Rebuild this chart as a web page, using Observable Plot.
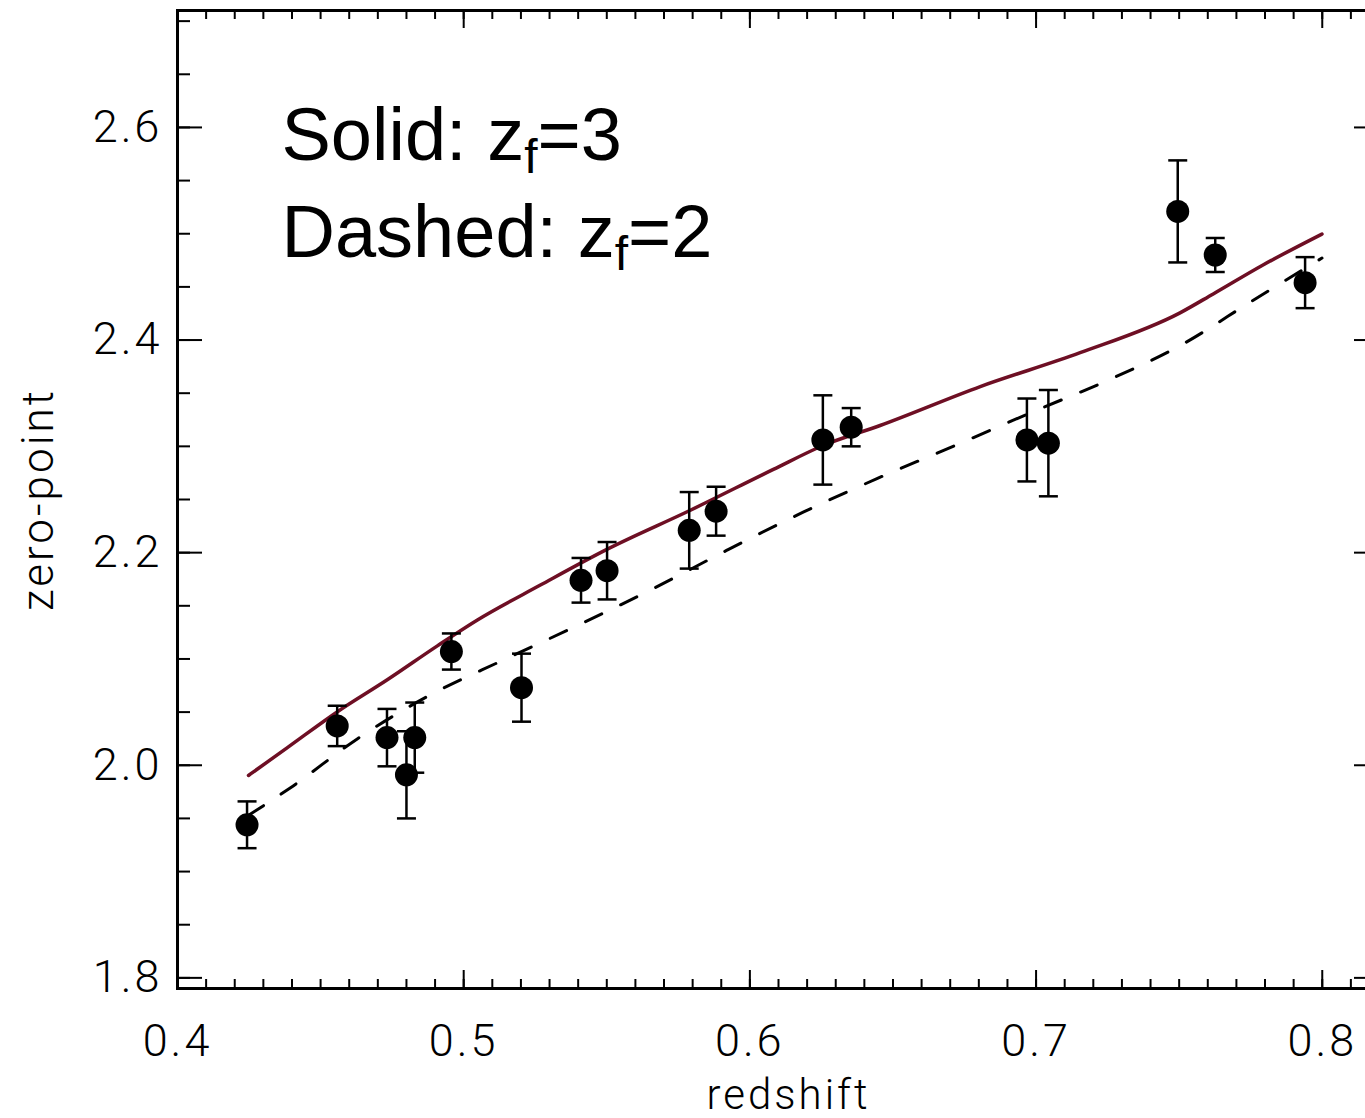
<!DOCTYPE html>
<html><head><meta charset="utf-8">
<script src="https://cdn.jsdelivr.net/npm/d3@7"></script>
<script src="https://cdn.jsdelivr.net/npm/@observablehq/plot@0.6"></script>
<style>
html,body{margin:0;padding:0;background:#fff;overflow:hidden;width:1365px;height:1118px;}
#chart{width:1365px;height:1118px;overflow:hidden;}
#chart svg{display:block;max-width:none !important;width:1390px !important;height:1118px !important;}
</style></head><body><div id="chart"></div>
<script>
// ---- observed galaxies ----
const redshift     = [0.4243, 0.4558, 0.4732, 0.4800, 0.4829, 0.4957, 0.5202, 0.5410, 0.5501, 0.5788, 0.5882, 0.6255, 0.6354, 0.6968, 0.7043, 0.7495, 0.7626, 0.7940];
const zeroPoint    = [1.944, 2.037, 2.026, 1.991, 2.026, 2.107, 2.073, 2.174, 2.183, 2.221, 2.239, 2.306, 2.318, 2.306, 2.303, 2.521, 2.480, 2.454];
const zeroPointErr = [0.022, 0.019, 0.027, 0.041, 0.033, 0.017, 0.032, 0.021, 0.027, 0.036, 0.023, 0.042, 0.018, 0.039, 0.050, 0.048, 0.016, 0.024];

// ---- model z_f = 3 (solid) ----
const modelZf3X = [0.4248, 0.4384, 0.4559, 0.4733, 0.4908, 0.5048, 0.5268, 0.5502, 0.5792, 0.6082, 0.6256, 0.6455, 0.6805, 0.7154, 0.7503, 0.7619, 0.7793, 0.7999];
const modelZf3Y = [1.9904, 2.0166, 2.0504, 2.0804, 2.1123, 2.1367, 2.1695, 2.2033, 2.2399, 2.2783, 2.3008, 2.3196, 2.3562, 2.3881, 2.4256, 2.4434, 2.4706, 2.4997];

// ---- model z_f = 2 (dashed) ----
const modelZf2X = [0.4248, 0.4395, 0.4628, 0.4878, 0.5140, 0.5402, 0.5664, 0.5920, 0.6188, 0.6444, 0.6717, 0.6985, 0.7253, 0.7509, 0.7759, 0.7999];
const modelZf2Y = [1.9529, 1.9789, 2.0248, 2.0654, 2.0992, 2.1320, 2.1664, 2.2023, 2.2383, 2.2696, 2.3008, 2.3321, 2.3624, 2.3956, 2.4375, 2.4771];

// ---- axes ----
const xTickLabels = [0.4, 0.5, 0.6, 0.7, 0.8];
const yTickLabels = [1.8, 2.0, 2.2, 2.4, 2.6];
const xMinorTicks = d3.range(40, 83).map(d => d / 100);
const yMinorTicks = d3.range(36, 55).map(d => d / 20);
const xTitle = "redshift";
const yTitle = "zero-point";

// ---- annotation ----
const legendLines = [
  {label: "Solid: z", sub: "f", rest: "=3"},
  {label: "Dashed: z", sub: "f", rest: "=2"}
];

const points = redshift.map((x, i) => ({x, y: zeroPoint[i], e: zeroPointErr[i]}));
const solid = modelZf3X.map((x, i) => ({x, y: modelZf3Y[i]}));
const dashed = modelZf2X.map((x, i) => ({x, y: modelZf2Y[i]}));

const W = 1390, H = 1118, ML = 177, MR = 11, MT = 10, MB = 130;
const FW = W - ML - MR, FH = H - MT - MB;
const capSymbol = {draw(ctx, size) { const w = Math.sqrt(size / Math.PI); ctx.moveTo(-w, 0); ctx.lineTo(w, 0); }};
const axisFont = "Roboto, 'Liberation Sans', sans-serif";

const svg = Plot.plot({
  width: W, height: H,
  marginLeft: ML, marginRight: MR, marginTop: MT, marginBottom: MB,
  x: {domain: [0.4, 0.82]},
  y: {domain: [1.79, 2.71]},
  style: {background: "white", fontFamily: axisFont, letterSpacing: "3px", fontWeight: 300, color: "black", maxWidth: "none"},
  marks: [
    // model curves
    Plot.line(solid, {x: "x", y: "y", stroke: "#6e0f24", strokeWidth: 3.5, curve: "monotone-x"}),
    Plot.line(dashed, {x: "x", y: "y", stroke: "black", strokeWidth: 3, strokeDasharray: "18,21", curve: "monotone-x"}),
    // error bars
    Plot.ruleX(points, {x: "x", y1: d => d.y - d.e, y2: d => d.y + d.e, stroke: "black", strokeWidth: 2.5}),
    Plot.dot(points, {x: "x", y: d => d.y + d.e, symbol: capSymbol, r: 9.5, stroke: "black", strokeWidth: 2.5, fill: "none"}),
    Plot.dot(points, {x: "x", y: d => d.y - d.e, symbol: capSymbol, r: 9.5, stroke: "black", strokeWidth: 2.5, fill: "none"}),
    // points
    Plot.dot(points, {x: "x", y: "y", r: 11.5, fill: "black", stroke: "none"}),
    // ticks (inward)
    Plot.tickX(xMinorTicks, {x: d => d, insetTop: FH - 9, stroke: "black", strokeWidth: 2}),
    Plot.tickX(xTickLabels, {x: d => d, insetTop: FH - 18, stroke: "black", strokeWidth: 2}),
    Plot.tickX(xMinorTicks, {x: d => d, insetBottom: FH - 9, stroke: "black", strokeWidth: 2}),
    Plot.tickX(xTickLabels, {x: d => d, insetBottom: FH - 18, stroke: "black", strokeWidth: 2}),
    Plot.tickY(yMinorTicks, {y: d => d, insetRight: FW - 13, stroke: "black", strokeWidth: 2}),
    Plot.tickY(yTickLabels, {y: d => d, insetRight: FW - 25, stroke: "black", strokeWidth: 2}),
    Plot.tickY(yMinorTicks, {y: d => d, insetLeft: FW - 13, stroke: "black", strokeWidth: 2}),
    Plot.tickY(yTickLabels, {y: d => d, insetLeft: FW - 25, stroke: "black", strokeWidth: 2}),
    Plot.frame({stroke: "black", strokeWidth: 3}),
    // axes
    Plot.axisX({ticks: xTickLabels, tickSize: 0, tickPadding: 36, tickFormat: d => d.toFixed(1), fontSize: 45, label: null, fill: "black"}),
    Plot.axisY({ticks: yTickLabels, tickSize: 0, tickPadding: 15, tickFormat: d => d.toFixed(1), fontSize: 45, label: null, fill: "black"}),
    Plot.text([xTitle], {text: d => d, frameAnchor: "bottom", dx: 10, dy: 107, fontSize: 42, lineAnchor: "middle", textAnchor: "middle", fill: "black"}),
    Plot.text([yTitle], {text: d => d, frameAnchor: "left", dx: -139, rotate: -90, fontSize: 44, lineAnchor: "middle", textAnchor: "middle", fill: "black"}),
    // annotation
    Plot.text([legendLines[0]], {text: "label", frameAnchor: "top-left", dx: 104, dy: 126.3, fontSize: 74, textAnchor: "start", lineAnchor: "middle", fill: "black", fontFamily: "'Liberation Sans', Arial, sans-serif", fontWeight: 400}),
    Plot.text([legendLines[1]], {text: "label", frameAnchor: "top-left", dx: 104, dy: 223.3, fontSize: 74, textAnchor: "start", lineAnchor: "middle", fill: "black", fontFamily: "'Liberation Sans', Arial, sans-serif", fontWeight: 400})
  ]
});

// add subscripts to annotation lines
svg.querySelectorAll("text").forEach(t => {
  const line = legendLines.find(l => t.textContent === l.label);
  if (!line) return;
  const sel = d3.select(t).attr("letter-spacing", "0");
  sel.append("tspan").attr("font-size", 48).attr("dy", 13).text(line.sub);
  sel.append("tspan").attr("font-size", 74).attr("dy", -13).text(line.rest);
});

document.getElementById("chart").appendChild(svg);
</script></body></html>
